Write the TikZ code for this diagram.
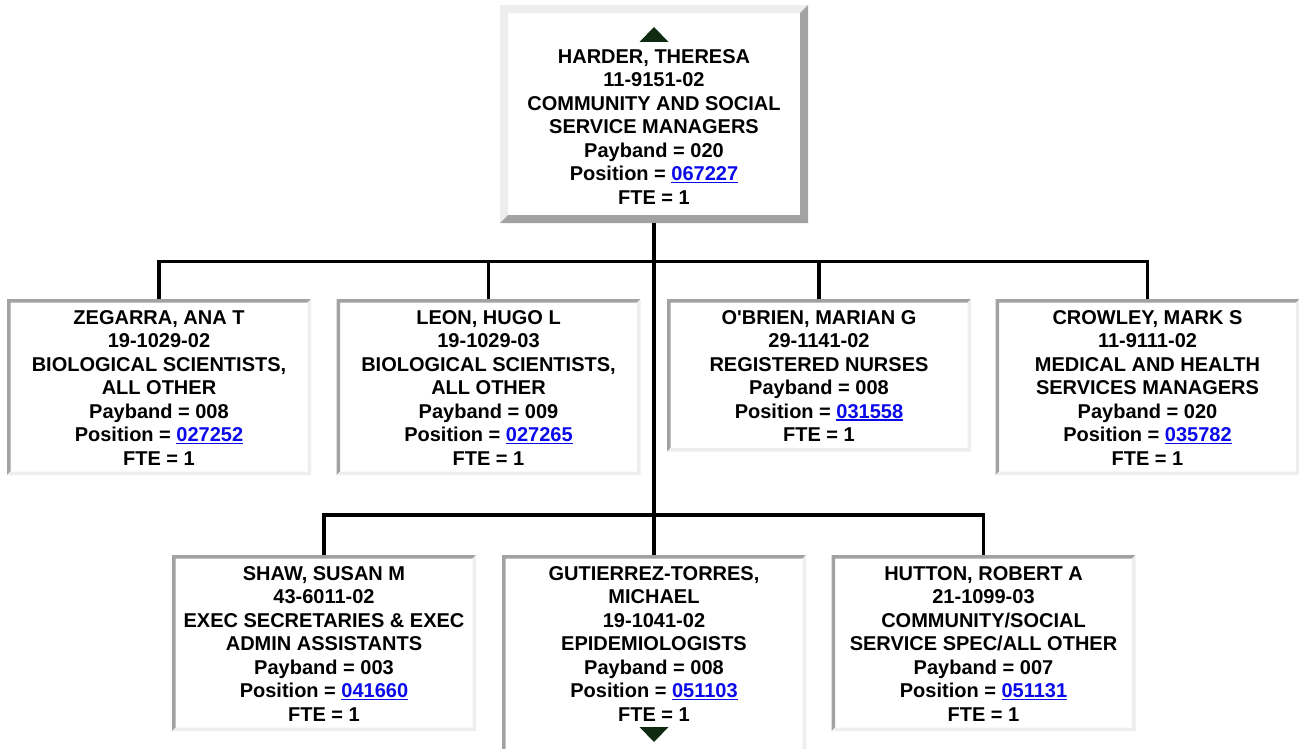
\documentclass[tikz,border=0pt]{standalone}
\usepackage{fontspec}
\setmainfont{Liberation Sans}
\usepackage{tikz}
\usetikzlibrary{calc, positioning}

\definecolor{bevdark}{RGB}{162,162,162}
\definecolor{bevlight}{RGB}{238,238,238}
\definecolor{linkblue}{RGB}{10,10,235}
\definecolor{trigreen}{RGB}{14,42,16}

% blue underlined position number
\newcommand{\poslink}[1]{{\color{linkblue}\setbox0\hbox{#1}\rlap{\rule[-2.6pt]{\wd0}{1.7pt}}\box0}}
% struts that fix the gap above the first and below the last line
\newcommand{\tstrut}[1]{\rule{0pt}{#1}}
\newcommand{\bstrut}[1]{\rule[-#1]{0pt}{#1}}

\begin{document}
\begin{tikzpicture}[
    x=1pt, y=-1pt,
    every node/.style={font=\bfseries\fontsize{20}{23.5}\selectfont},
    bevel/.style n args={3}{path picture={
        \fill[#1] (path picture bounding box.south west) -- (path picture bounding box.north west)
            -- (path picture bounding box.north east) -- ([shift={(-#3,-#3)}]path picture bounding box.north east)
            -- ([shift={(#3,-#3)}]path picture bounding box.north west) -- ([shift={(#3,#3)}]path picture bounding box.south west) -- cycle;
        \fill[#2] (path picture bounding box.south west) -- (path picture bounding box.south east)
            -- (path picture bounding box.north east) -- ([shift={(-#3,-#3)}]path picture bounding box.north east)
            -- ([shift={(-#3,#3)}]path picture bounding box.south east) -- ([shift={(#3,#3)}]path picture bounding box.south west) -- cycle;
    }},
    bossbox/.style={fill=white, inner sep=0pt, anchor=north, align=center, minimum width=308pt, bevel={bevlight}{bevdark}{8pt}},
    staffbox/.style={fill=white, inner sep=0pt, anchor=north, align=center, minimum width=304pt, bevel={bevdark}{bevlight}{3.5pt}},
    wire/.style={line width=3.4pt, black},
]

\clip (0,0) rectangle (1299,749);
\fill[white] (0,0) rectangle (1299,749);

% =========================================================
% 1. Manager
% =========================================================
\node[bossbox] (harder) at (654,5) {\tstrut{58pt}HARDER, THERESA\\ 11-9151-02\\ COMMUNITY AND SOCIAL\\ SERVICE MANAGERS\\
    Payband = 020\\ Position = \poslink{067227}\\ FTE = 1\bstrut{19pt}};
\fill[trigreen] ([shift={(-14.5pt,-37pt)}]harder.north) -- ([shift={(14.5pt,-37pt)}]harder.north) -- ([shift={(0pt,-22pt)}]harder.north) -- cycle;

% =========================================================
% 2. First row of staff
% =========================================================
\node[staffbox] (zegarra) at (159,299) {\tstrut{25pt}ZEGARRA, ANA T\\ 19-1029-02\\ BIOLOGICAL SCIENTISTS,\\ ALL OTHER\\
    Payband = 008\\ Position = \poslink{027252}\\ FTE = 1\bstrut{10pt}};
\node[staffbox] (leon) at (488.5,299) {\tstrut{25pt}LEON, HUGO L\\ 19-1029-03\\ BIOLOGICAL SCIENTISTS,\\ ALL OTHER\\
    Payband = 009\\ Position = \poslink{027265}\\ FTE = 1\bstrut{10pt}};
\node[staffbox] (obrien) at (819,299) {\tstrut{25pt}O\textquotesingle BRIEN, MARIAN G\\ 29-1141-02\\ REGISTERED NURSES\\
    Payband = 008\\ Position = \poslink{031558}\\ FTE = 1\bstrut{10pt}};
\node[staffbox] (crowley) at (1147.5,299) {\tstrut{25pt}CROWLEY, MARK S\\ 11-9111-02\\ MEDICAL AND HEALTH\\ SERVICES MANAGERS\\
    Payband = 020\\ Position = \poslink{035782}\\ FTE = 1\bstrut{10pt}};

% =========================================================
% 3. Second row of staff
% =========================================================
\node[staffbox] (shaw) at (324,555) {\tstrut{25pt}SHAW, SUSAN M\\ 43-6011-02\\ EXEC SECRETARIES \& EXEC\\ ADMIN ASSISTANTS\\
    Payband = 003\\ Position = \poslink{041660}\\ FTE = 1\bstrut{10pt}};
\node[staffbox] (gutierrez) at (654,555) {\tstrut{25pt}GUTIERREZ-TORRES,\\ MICHAEL\\ 19-1041-02\\ EPIDEMIOLOGISTS\\
    Payband = 008\\ Position = \poslink{051103}\\ FTE = 1\bstrut{40pt}};
\fill[trigreen] ([shift={(-14.5pt,-172pt)}]gutierrez.north) -- ([shift={(14.5pt,-172pt)}]gutierrez.north) -- ([shift={(0pt,-187pt)}]gutierrez.north) -- cycle;
\node[staffbox] (hutton) at (983.5,555) {\tstrut{25pt}HUTTON, ROBERT A\\ 21-1099-03\\ COMMUNITY/SOCIAL\\ SERVICE SPEC/ALL OTHER\\
    Payband = 007\\ Position = \poslink{051131}\\ FTE = 1\bstrut{10pt}};

% Wires
\coordinate (busA) at (654,261.5);
\coordinate (busB) at (654,515);
\draw[wire] (harder.south) -- (gutierrez.north);
\draw[wire] (zegarra.north) |- (busA) -| (crowley.north);
\draw[wire] (leon.north) -- (leon.north |- busA);
\draw[wire] (obrien.north) -- (obrien.north |- busA);
\draw[wire] (shaw.north) |- (busB) -| (hutton.north);

\end{tikzpicture}
\end{document}
